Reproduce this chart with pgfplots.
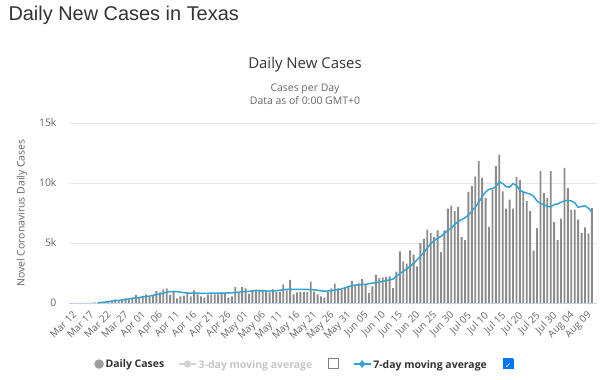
\documentclass[border=0pt]{standalone}
\usepackage{pgfplots}
\pgfplotsset{compat=1.18}
\usepackage{pgfplotstable}
\usepackage{fontspec}
\setmainfont{Open Sans}
\newfontfamily\titlefont{Liberation Sans}
\newfontfamily\symfont{DejaVu Sans}
\definecolor{barcol}{RGB}{140,140,140}
\definecolor{linecol}{RGB}{52,163,209}
\definecolor{txt}{RGB}{51,51,51}
\definecolor{lbl}{RGB}{102,102,102}
\definecolor{gridc}{RGB}{230,230,230}
\definecolor{axc}{RGB}{204,214,235}
\definecolor{boxblue}{RGB}{0,117,255}
\newcommand{\cbempty}{{\setlength\fboxsep{0pt}\setlength\fboxrule{0.8bp}\fcolorbox{gray}{white}{\rule{0pt}{9bp}\hspace{9bp}}}}
\newcommand{\cbchecked}{{\setlength\fboxsep{0pt}\setlength\fboxrule{0.8bp}\fcolorbox{boxblue}{boxblue}{\makebox[9bp][c]{\rule{0pt}{9bp}\textcolor{white}{\symfont\fontsize{8}{9}\selectfont ✓}}}}}

\pgfplotstableread{
i v
0 5
1 10
2 15
3 20
4 20
5 20
6 30
7 50
8 60
9 80
10 100
11 120
12 200
13 300
14 200
15 250
16 390
17 300
18 450
19 670
20 445
21 610
22 720
23 530
24 670
25 1000
26 890
27 1140
28 1220
29 670
30 1000
31 390
32 560
33 610
34 890
35 560
36 1050
37 720
38 560
39 445
40 700
41 720
42 720
43 720
44 890
45 860
46 445
47 560
48 1330
49 950
50 1330
51 1220
52 780
53 1080
54 1110
55 1110
56 1110
57 1050
58 890
59 1140
60 950
61 950
62 1560
63 1050
64 1920
65 720
66 890
67 920
68 920
69 920
70 1780
71 950
72 720
73 560
74 445
75 950
76 1220
77 1610
78 1220
79 1110
80 1330
81 1360
82 1830
83 1560
84 1640
85 2000
86 1500
87 830
88 1390
89 2360
90 2085
91 2140
92 2170
93 2220
94 1250
95 2620
96 4310
97 3475
98 3280
99 4390
100 4030
101 3060
102 5000
103 5340
104 6120
105 5840
106 5500
107 6060
108 4230
109 6060
110 7870
111 8120
112 7650
113 8010
114 5500
115 5230
116 9230
117 9730
118 10560
119 11815
120 10425
121 8760
122 6340
123 9450
124 11400
125 12370
126 9310
127 7870
128 8620
129 7870
130 10500
131 10230
132 9310
133 8480
134 7650
135 4370
136 6250
137 10980
138 9170
139 8760
140 10980
141 6730
142 5230
143 7030
144 11260
145 9590
146 7730
147 7790
148 6950
149 5840
150 6300
151 5800
152 7900
}\bars

\pgfplotstableread{
i v
8 30
9 50
10 80
11 120
12 150
13 190
14 220
15 250
16 290
17 340
18 390
19 420
20 460
21 500
22 540
23 570
24 640
25 700
26 760
27 820
28 900
29 950
30 960
31 950
32 900
33 860
34 830
35 830
36 820
37 820
38 810
39 800
40 810
41 820
42 820
43 830
44 830
45 830
46 840
47 850
48 870
49 900
50 940
51 960
52 980
53 1010
54 1030
55 1020
56 1010
57 1000
58 1000
59 1010
60 1030
61 1060
62 1100
63 1140
64 1150
65 1140
66 1130
67 1140
68 1140
69 1130
70 1120
71 1100
72 1060
73 1010
74 990
75 1000
76 1030
77 1080
78 1130
79 1170
80 1260
81 1360
82 1450
83 1490
84 1520
85 1540
86 1560
87 1610
88 1660
89 1700
90 1740
91 1800
92 1860
93 1920
94 2000
95 2250
96 2450
97 2650
98 2850
99 3050
100 3300
101 3600
102 3900
103 4200
104 4600
105 4950
106 5200
107 5400
108 5550
109 5800
110 6050
111 6250
112 6550
113 6800
114 6950
115 7100
116 7350
117 7650
118 8000
119 8400
120 8850
121 9250
122 9480
123 9550
124 9700
125 10100
126 9950
127 9700
128 9650
129 9950
130 9800
131 9400
132 9250
133 9150
134 9080
135 8900
136 8500
137 8300
138 8200
139 8050
140 8020
141 8200
142 8250
143 8400
144 8500
145 8560
146 8500
147 8350
148 7980
149 8050
150 8100
151 7900
152 7600
}\avg

\begin{document}
\begin{tikzpicture}[x=1bp,y=1bp]
\path[use as bounding box] (0,0) rectangle (600,379);
\node[anchor=west, text=txt, font=\titlefont\fontsize{20}{24}\selectfont] at (5,364) {Daily New Cases in Texas};
\node[text=txt, font=\fontsize{15}{18}\selectfont] at (305,314) {Daily New Cases};
\node[text=lbl, font=\fontsize{10.5}{13}\selectfont, align=center] at (305,284.5) {Cases per Day\\Data as of 0:00 GMT+0};
\begin{axis}[
  at={(69bp,76bp)}, anchor=south west,
  width=528bp, height=180bp, scale only axis,
  xmin=-0.5, xmax=153.5, ymin=0, ymax=15000,
  axis x line*=bottom, axis y line*=left,
  x axis line style={draw=axc, line width=0.8bp, -},
  y axis line style={draw=none},
  major tick length=0pt,
  ymajorgrids, grid style={gridc, line width=0.8bp},
  ytick={0,5000,10000,15000}, yticklabels={0,5k,10k,15k},
  scaled y ticks=false,
  xtick={0,5,...,150},
  xticklabels={Mar 12,Mar 17,Mar 22,Mar 27,Apr 01,Apr 06,Apr 11,Apr 16,Apr 21,Apr 26,May 01,May 06,May 11,May 16,May 21,May 26,May 31,Jun 05,Jun 10,Jun 15,Jun 20,Jun 25,Jun 30,Jul 05,Jul 10,Jul 15,Jul 20,Jul 25,Jul 30,Aug 04,Aug 09},
  /pgf/number format/assume math mode=true,
  yticklabel style={text=lbl, font=\fontsize{10.5}{12}\selectfont, anchor=east, xshift=-9bp},
  xticklabel style={text=lbl, font=\fontsize{10}{12}\selectfont, rotate=45, anchor=north east, yshift=-3bp, xshift=-1bp},
  ylabel={Novel Coronavirus Daily Cases},
  every axis y label/.style={at={(axis description cs:-0.089,0.5)}, rotate=90, anchor=center, text=lbl, font=\fontsize{10.5}{12}\selectfont},
  legend style={at={(axis description cs:0.447,-0.339)}, anchor=center, draw=none, fill=none,
    font=\bfseries\fontsize{10.5}{12}\selectfont, text=txt,
    /tikz/every even column/.append style={column sep=12bp}},
  legend columns=3,
]
\addplot[ybar, bar width=0.55, fill=barcol, draw=none, forget plot] table[x=i,y=v]{\bars};
\addlegendimage{only marks, mark=*, mark size=4.5bp, color=barcol!85}
\addlegendentry{Daily Cases}
\addlegendimage{color=gray!35, mark=*, mark size=2.8bp, line width=1.5bp}
\addlegendentry{\textcolor{gray!45}{3-day moving average}\hspace{16bp}\cbempty}
\addlegendimage{color=linecol, mark=diamond*, mark size=2.8bp, line width=1.5bp}
\addlegendentry{7-day moving average\hspace{16bp}\cbchecked}
\addplot[linecol, line width=1.5bp, forget plot] table[x=i,y=v]{\avg};
\end{axis}
\end{tikzpicture}
\end{document}
